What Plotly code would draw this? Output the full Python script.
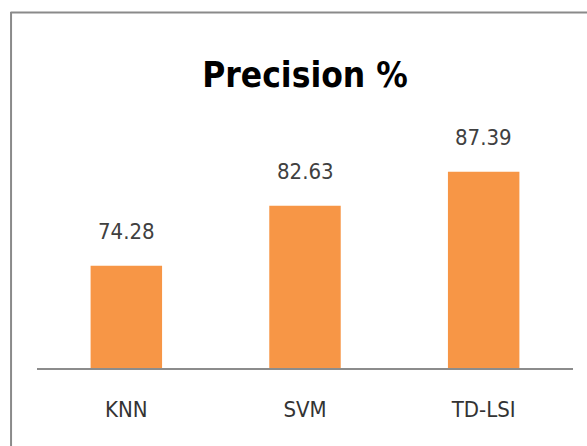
import plotly.graph_objects as go

categories = ["KNN", "SVM", "TD-LSI"]
precision = [74.28, 82.63, 87.39]
value_labels = ["74.28", "82.63", "87.39"]

FONT = "Liberation Sans Narrow, DejaVu Sans Condensed, Arial Narrow, sans-serif"

fig = go.Figure()
fig.add_trace(go.Bar(
    x=categories, y=precision,
    marker=dict(color="#F79646", line=dict(width=0)),
    hoverinfo="skip",
))

for c, v, t in zip(categories, precision, value_labels):
    fig.add_annotation(x=c, y=v, text=t, showarrow=False, yanchor="bottom",
                       yshift=20, font=dict(family=FONT, size=22, color="#404040"))

W, H = 587, 446
L, R, T, B = 36.5, 13.5, 153, 78
pw = W - L - R
ph = H - T - B

def px_x(x):
    return (x - L) / pw

def px_y(y):
    return (H - B - y) / ph

# outer chart border (top and left edges visible)
fig.add_shape(type="line", xref="paper", yref="paper",
              x0=px_x(10), x1=px_x(600), y0=px_y(12.5), y1=px_y(12.5),
              line=dict(color="#8a8a8a", width=2))
fig.add_shape(type="line", xref="paper", yref="paper",
              x0=px_x(10.5), x1=px_x(10.5), y0=px_y(12), y1=px_y(460),
              line=dict(color="#8a8a8a", width=2))

fig.update_layout(
    width=W, height=H,
    margin=dict(l=L, r=R, t=T, b=B, pad=0),
    paper_bgcolor="white", plot_bgcolor="white",
    showlegend=False,
    bargap=0.6,
    title=dict(text="<b>Precision %</b>", x=0.5, xref="paper", xanchor="center",
               y=1 - 75 / H, yref="container", yanchor="middle",
               font=dict(family=FONT, size=35, color="#000000")),
    xaxis=dict(showline=True, linecolor="#8c8c8c", linewidth=2, showgrid=False,
               ticks="", ticklabelstandoff=21, zeroline=False,
               tickfont=dict(family=FONT, size=22, color="#333333")),
    yaxis=dict(range=[60, 90], visible=False, showgrid=False, zeroline=False),
)

fig.write_html("out.html")
